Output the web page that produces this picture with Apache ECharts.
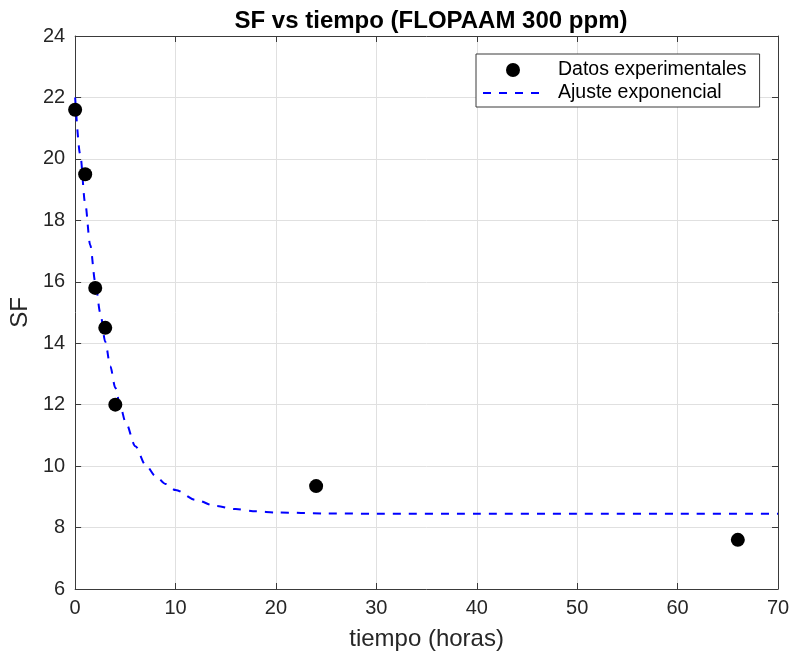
<!DOCTYPE html>
<html>
<head>
<meta charset="utf-8">
<script src="https://cdn.jsdelivr.net/npm/echarts@6/dist/echarts.min.js"></script>
<style>html,body{margin:0;padding:0;background:#fff}#c{width:793px;height:658px}</style>
</head>
<body>
<div id="c"></div>
<script>
// Experimental data
const tiempoExp = [0, 1, 2, 3, 4, 24, 66];
const sfExp = [21.6, 19.5, 15.8, 14.5, 12.0, 9.35, 7.6];
// Fitted curve
const tiempoFit = [0, 0.5, 1, 1.5, 2, 2.5, 3, 3.5, 4, 4.5, 5, 6, 7, 8, 9, 10, 12, 14, 16, 18, 20, 25, 30, 40, 50, 60, 70];
const sfFit = [22.0, 20.15, 18.55, 17.2, 16.0, 15.0, 14.05, 13.25, 12.55, 11.95, 11.45, 10.65, 10.05, 9.68, 9.42, 9.22, 8.9, 8.7, 8.6, 8.53, 8.49, 8.46, 8.45, 8.45, 8.45, 8.45, 8.45];
const xTicks = [0, 10, 20, 30, 40, 50, 60, 70];
const yTicks = [6, 8, 10, 12, 14, 16, 18, 20, 22, 24];

const font = 'Liberation Sans, Arial, sans-serif';
const axisColor = '#3a3a3a';
const textColor = '#262626';

const chart = echarts.init(document.getElementById('c'), null, {renderer: 'canvas'});
const boxAxis = {
  axisLine: {show: true, onZero: false, lineStyle: {color: axisColor, width: 1}},
  axisTick: {show: true, inside: true, length: 6, lineStyle: {color: axisColor}},
  axisLabel: {show: false},
  splitLine: {show: false}
};
chart.setOption({
  animation: false,
  backgroundColor: '#fff',
  title: {
    text: 'SF vs tiempo (FLOPAAM 300 ppm)',
    left: 426, top: 4, textAlign: 'center',
    textStyle: {fontFamily: font, fontSize: 24, fontWeight: 'bold', color: '#000'}
  },
  grid: {left: 75, right: 15, top: 36, bottom: 69, containLabel: false},
  legend: {
    orient: 'vertical', left: 476, top: 54,
    padding: [6, 13, 4, 6], itemGap: 3,
    itemWidth: 60, itemHeight: 14,
    backgroundColor: '#fff', borderColor: axisColor, borderWidth: 1,
    textStyle: {fontFamily: font, fontSize: 19.5, color: '#000', padding: [0, 0, 0, 10]},
    data: [
      {name: 'Datos experimentales', icon: 'circle'},
      {name: 'Ajuste exponencial', itemStyle: {opacity: 0}}
    ]
  },
  xAxis: [{
    type: 'value', min: xTicks[0], max: xTicks[xTicks.length - 1], interval: 10,
    name: 'tiempo (horas)', nameLocation: 'middle', nameGap: 38,
    nameTextStyle: {fontFamily: font, fontSize: 24, color: textColor},
    axisLine: {show: true, onZero: false, lineStyle: {color: axisColor}},
    axisTick: {show: true, inside: true, length: 6, lineStyle: {color: axisColor}},
    axisLabel: {fontFamily: font, fontSize: 20, color: textColor, margin: 9},
    splitLine: {show: true, lineStyle: {color: '#e0e0e0', width: 1}}
  }, Object.assign({type: 'value', position: 'top', min: 0, max: 70, interval: 10}, boxAxis)],
  yAxis: [{
    type: 'value', min: yTicks[0], max: yTicks[yTicks.length - 1], interval: 2,
    name: 'SF', nameLocation: 'middle', nameGap: 43,
    nameTextStyle: {fontFamily: font, fontSize: 24, color: textColor},
    axisLine: {show: true, onZero: false, lineStyle: {color: axisColor}},
    axisTick: {show: true, inside: true, length: 6, lineStyle: {color: axisColor}},
    axisLabel: {fontFamily: font, fontSize: 20, color: textColor, margin: 10},
    splitLine: {show: true, lineStyle: {color: '#e0e0e0', width: 1}}
  }, Object.assign({type: 'value', position: 'right', min: 6, max: 24, interval: 2}, boxAxis)],
  series: [{
    name: 'Ajuste exponencial', type: 'line',
    data: tiempoFit.map((t, i) => [t, sfFit[i]]),
    showSymbol: false, symbol: 'none', smooth: 0.3, smoothMonotone: 'x',
    lineStyle: {color: '#0000ff', width: 2, type: [8, 8]},
    itemStyle: {color: '#0000ff'},
    z: 2
  }, {
    name: 'Datos experimentales', type: 'scatter',
    data: tiempoExp.map((t, i) => [t, sfExp[i]]),
    symbol: 'circle', symbolSize: 14,
    itemStyle: {color: '#000', opacity: 1},
    z: 3
  }]
});
</script>
</body>
</html>
